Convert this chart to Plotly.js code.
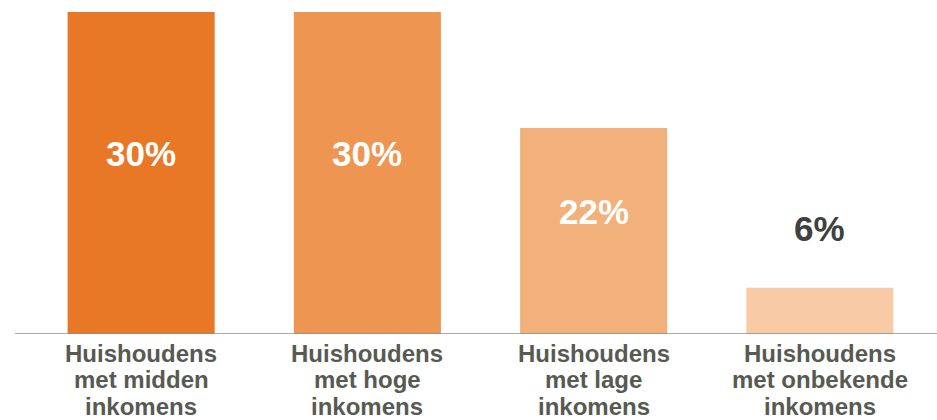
<!DOCTYPE html>
<html>
<head>
<meta charset="utf-8">
<script src="https://cdn.plot.ly/plotly-3.0.1.min.js"></script>
<style>html,body{margin:0;padding:0;background:#fff;}#chart{width:937px;height:420px;}</style>
</head>
<body>
<div id="chart"></div>
<script>
// Data
const categories = ["midden", "hoge", "lage", "onbekende"];
const tickLabels = [
  "Huishoudens<br>met midden<br>inkomens",
  "Huishoudens<br>met hoge<br>inkomens",
  "Huishoudens<br>met lage<br>inkomens",
  "Huishoudens<br>met onbekende<br>inkomens"
];
const barValues = [30, 30, 19.2, 4.3];       // bar heights as drawn
const valueLabels = ["30%", "30%", "22%", "6%"];
const barColors = ["#E87826", "#EE9551", "#F2B07B", "#F8CBA6"];

const FONT = "'Liberation Sans', Arial, sans-serif";

const trace = {
  type: "bar",
  x: categories,
  y: barValues,
  marker: {color: barColors, line: {width: 0}},
  hoverinfo: "skip"
};

const annotations = categories.map((c, i) => {
  const v = barValues[i];
  const inside = v > 10;
  return {
    x: c, xref: "x",
    y: inside ? 0.5 * v + 1.8 : v + 5.5, yref: "y",
    text: valueLabels[i],
    showarrow: false,
    xanchor: "center", yanchor: "middle",
    font: {family: FONT, size: 35, color: inside ? "#FFFFFF" : "#404040", weight: "bold"}
  };
});

// category labels, one annotation per line for tight line spacing
const LINE_GAP = 26.7, FIRST_LINE = 19;
categories.forEach((c, i) => {
  tickLabels[i].split("<br>").forEach((line, k) => {
    annotations.push({
      x: c, xref: "x", y: 0, yref: "paper",
      yshift: -(FIRST_LINE + k * LINE_GAP),
      text: line, showarrow: false,
      xanchor: "center", yanchor: "middle",
      font: {family: FONT, size: 24, color: "#575A52", weight: "bold"}
    });
  });
});

const layout = {
  width: 937, height: 420,
  margin: {l: 28, r: 4, t: 12, b: 86},
  paper_bgcolor: "#fff", plot_bgcolor: "#fff",
  showlegend: false,
  bargap: 0.35,
  xaxis: {
    type: "category",
    showticklabels: false,
    showgrid: false, zeroline: false, showline: false,
    ticks: "", fixedrange: true
  },
  yaxis: {
    range: [0, 30],
    visible: false, showgrid: false, zeroline: false, fixedrange: true
  },
  shapes: [{
    type: "line", xref: "paper", yref: "y",
    x0: -0.0144, x1: 1.01, y0: 0, y1: 0,
    line: {color: "#8C8C8C", width: 1.5}
  }],
  annotations: annotations
};

Plotly.newPlot("chart", [trace], layout, {displayModeBar: false, staticPlot: true});
</script>
</body>
</html>
